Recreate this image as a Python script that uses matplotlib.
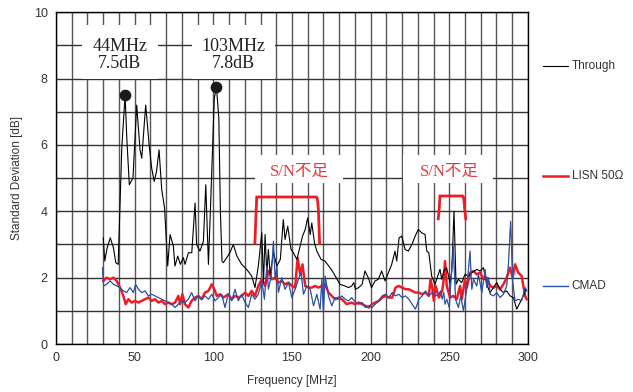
import numpy as np
import matplotlib.pyplot as plt
from matplotlib.lines import Line2D
from matplotlib.patches import Rectangle
from matplotlib.path import Path
from matplotlib.patches import PathPatch

plt.rcParams['font.family'] = ['Liberation Sans', 'DejaVu Sans']

# Through (black)
through_f = [30, 31, 32.5, 34.5, 36.5, 38, 39.5, 41.8, 43.9, 45, 46.6, 48.9, 51.3, 53.4, 54.5, 57.0,
             59.3, 60.8, 62.4, 63.9, 65.5, 67.2, 69.0, 71.0, 72.5, 74.6, 75.6, 77.4, 79, 81, 82, 84.2,
             86.3, 88.4, 89.4, 91.5, 93.7, 95.2, 96.9, 98.5, 100.6, 102, 103.5, 104.5, 105.5, 106.4,
             108.5, 110.5, 112.7, 115, 118, 121.2, 124.4, 126.5, 128.6, 130.8, 131.9, 132.9, 134.0,
             135, 136.1, 138.3, 140.4, 142.6, 144.5, 145.6, 147.3, 149.4, 150.9, 153.1, 155.2, 156.7,
             158.4, 160, 161.6, 162.6, 164.3, 165.8, 168.5, 171, 174.2, 176.3, 180.5, 183.7, 186, 188,
             189.3, 190.3, 192.4, 194.6, 196.4, 198.5, 200.6, 202.8, 204.9, 207, 209.2, 211.3, 213.4,
             215.5, 216.6, 218.1, 219.8, 221.9, 224, 226.2, 228.3, 230.3, 232.5, 234.6, 235.7, 237,
             238.8, 240.9, 243, 244.1, 245.2, 246.5, 248.3, 250.5, 251.6, 253, 254.3, 255.8, 257.9,
             260, 262.2, 264.3, 267.5, 269.6, 271.7, 273.8, 275.9, 278, 280.2, 282.3, 284.4, 286.5,
             288.6, 290.8, 292.9, 295, 297.1, 298.8]
through_db = [3.2, 2.5, 2.9, 3.2, 2.9, 2.45, 2.4, 5.9, 7.5, 6.2, 4.8, 5.0, 7.2, 5.85, 5.6, 7.2,
              5.95, 5.3, 4.9, 5.2, 5.85, 4.65, 4.1, 2.35, 3.3, 2.95, 2.35, 2.65, 2.4, 2.6, 2.4, 2.75,
              2.75, 4.25, 3.0, 2.8, 3.1, 4.8, 2.4, 4.5, 7.4, 7.75, 6.8, 4.0, 2.5, 2.45,
              2.6, 2.75, 3.0, 2.65, 2.4, 2.25, 2.05, 1.7, 2.35, 3.35, 1.85, 3.3, 2.1,
              2.85, 2.1, 2.75, 2.35, 2.55, 3.75, 3.15, 3.55, 2.85, 2.75, 2.55, 2.95, 3.25,
              3.45, 3.8, 3.3, 3.65, 3.05, 2.8, 2.55, 2.5, 2.3, 2.15, 1.8, 1.75, 1.7, 1.75,
              1.85, 1.65, 1.7, 1.8, 2.2, 2.0, 1.7, 1.9, 1.95, 2.2, 1.9, 2.15, 2.4,
              2.8, 2.5, 3.2, 3.25, 2.85, 2.8, 3.0, 3.25, 3.45, 3.35, 3.3, 2.8, 2.75,
              2.05, 1.8, 2.1, 2.25, 1.95, 2.2, 2.3, 1.85, 2.2, 4.0, 1.8, 1.95, 1.85,
              2.1, 2.05, 2.15, 2.25, 2.2, 2.3, 1.8, 1.55, 1.7, 1.85, 1.65, 1.55, 1.6,
              1.45, 1.4, 1.05, 1.25, 1.45, 1.65]

# LISN 50 ohm (red)
lisn_f = [30.1, 32.2, 34.4, 36.5, 38.6, 40.7, 42.8, 44.3, 46, 48.1, 50.2, 52.4, 54.5, 56.6, 58.7,
          60.8, 62.9, 65.1, 67.2, 69.3, 71.4, 73.6, 75.7, 77.8, 78.9, 80.3, 82, 84.1, 86.2, 88.4,
          90.5, 92.6, 94.7, 96.9, 99, 100.6, 102.2, 104.3, 106.4, 109.5, 111.7, 113.8, 115.9, 118,
          120.2, 122.3, 124.4, 126.5, 128.6, 130.8, 132.9, 135, 137.2, 139.3, 141.4, 143.5, 145.6,
          147.8, 149.9, 152, 153.6, 155.2, 156.7, 158.4, 160.5, 162.6, 164.7, 166.8, 169, 171.1,
          173.2, 175.3, 177.4, 179.6, 181.7, 184.8, 188, 190, 192.4, 196.6, 198.8, 200.9, 203,
          205.2, 207.3, 209.4, 211.5, 213.7, 215.8, 217.9, 220, 222.2, 224.3, 226.4, 228.5, 230.7,
          232.8, 234.9, 237, 238.1, 239.2, 240.2, 241.3, 243.4, 245.5, 246.5, 247.3, 248.4, 250.5,
          252.6, 254.8, 255.8, 256.9, 257.9, 259, 260, 261.1, 263.3, 265.4, 267.5, 269.6, 271.7,
          273.8, 276, 278.1, 280.2, 282.3, 284.4, 286.5, 288.6, 290.3, 291.8, 293.9, 296, 298.2,
          299.2]
lisn_db = [1.9, 2.0, 1.95, 2.0, 1.9, 1.7, 1.45, 1.2, 1.35, 1.25, 1.3, 1.25, 1.3, 1.35, 1.4,
           1.3, 1.35, 1.25, 1.3, 1.2, 1.25, 1.2, 1.25, 1.45, 1.2, 1.5, 1.2, 1.1, 1.3, 1.4,
           1.45, 1.35, 1.55, 1.6, 1.8, 1.65, 1.45, 1.5, 1.4, 1.5, 1.35, 1.45, 1.4, 1.45,
           1.55, 1.45, 1.6, 1.45, 1.75, 1.95, 1.75, 2.2, 1.95, 2.0, 1.85, 1.9, 1.8,
           1.85, 1.75, 1.7, 2.6, 2.1, 2.4, 1.75, 1.7, 1.7, 1.75, 1.7, 1.75, 1.8,
           1.55, 1.45, 1.35, 1.4, 1.35, 1.2, 1.25, 1.2, 1.25, 1.15, 1.1, 1.2, 1.25,
           1.3, 1.4, 1.45, 1.4, 1.4, 1.7, 1.75, 1.7, 1.65, 1.65, 1.6, 1.55, 1.55,
           1.5, 1.55, 1.45, 1.95, 1.7, 1.3, 1.75, 1.4, 1.6, 1.95, 2.5, 1.75, 1.4,
           1.45, 1.35, 1.55, 1.75, 1.35, 1.65, 1.95, 1.7, 2.15, 2.2, 2.1, 2.15, 1.95,
           2.0, 1.75, 1.7, 1.75, 1.65, 1.8, 2.0, 2.3, 2.0, 2.4, 2.15, 2.05, 1.45,
           1.35]

# CMAD (blue)
cmad_f = [29.5, 30.3, 32.2, 34.4, 36.5, 38.6, 40.7, 42.8, 44.9, 47, 49.2, 50.6, 52.4, 54.5, 56.6,
          58.7, 60.8, 62.9, 65.1, 67.2, 69.3, 71.4, 73.6, 75.7, 77.8, 79.9, 82, 84.1, 86.2, 88.4,
          90.5, 92.6, 94.7, 96.9, 99, 101.1, 103.2, 105.3, 107.4, 109.5, 111.7, 113.8, 115.9, 118,
          120.2, 122.3, 124.4, 126.5, 128.6, 130.8, 132.5, 134, 135, 136.8, 138.2, 139.3, 140.4,
          141.4, 143.5, 145.6, 147.8, 149.9, 152, 154.1, 155.8, 157.3, 159.4, 161.6, 163.7, 165.8,
          167.9, 169, 170, 171.1, 173.2, 175.3, 177.4, 179.6, 181.7, 183.8, 186, 188, 190.5, 192.4,
          194.6, 196.6, 198.8, 200.9, 203, 205.2, 207.3, 209.4, 211.5, 213.7, 215.8, 217.9, 220,
          222.2, 224.3, 226.4, 228.5, 230.7, 232.8, 234.9, 237, 239.2, 241.3, 243.4, 244.5, 245.5,
          246.5, 247.3, 248.4, 250, 252.5, 254, 255.8, 257.3, 259, 261.1, 263.2, 264.3, 265.4,
          267.5, 268.5, 270.7, 272.8, 273.8, 274.9, 276, 278.1, 280.2, 282.3, 284.4, 286.5, 287.6,
          289, 290.3, 291.8, 293.9, 296, 298.2, 299.2]
cmad_db = [2.3, 1.75, 1.8, 1.9, 1.8, 1.75, 1.7, 1.6, 1.55, 1.7, 1.55, 1.8, 1.65, 1.55, 1.6,
           1.45, 1.5, 1.45, 1.4, 1.35, 1.3, 1.25, 1.2, 1.1, 1.2, 1.3, 1.25, 1.35, 1.55, 1.3,
           1.45, 1.35, 1.45, 1.35, 1.5, 1.3, 1.4, 1.5, 1.1, 1.5, 1.3, 1.65, 1.3, 1.5,
           1.25, 1.1, 1.5, 1.35, 1.5, 1.9, 1.35, 2.35, 1.65, 2.05, 3.1, 1.95, 2.35,
           1.55, 2.0, 1.65, 1.85, 1.4, 1.65, 1.95, 2.15, 1.5, 1.75, 1.65, 1.15, 1.5,
           1.05, 1.95, 0.95, 2.05, 1.45, 1.15, 1.4, 1.35, 1.45, 1.35, 1.3, 1.4, 1.25, 1.2,
           1.25, 1.1, 1.15, 1.1, 1.2, 1.3, 1.45, 1.5, 1.4, 1.55, 1.45, 1.5, 1.4,
           1.45, 1.35, 1.2, 1.05, 1.35, 1.45, 1.6, 1.45, 1.55, 1.45, 1.5, 1.6, 1.35,
           1.55, 1.2, 1.35, 1.1, 2.95, 1.35, 1.1, 1.45, 1.0, 1.65, 2.8, 1.65, 1.95,
           1.75, 2.1, 1.55, 2.25, 1.7, 2.0, 1.5, 1.45, 1.55, 1.4, 1.5, 1.75, 2.4,
           3.7, 1.9, 1.3, 1.35, 1.3, 1.7, 1.6]

peak_f = [44, 101.5]
peak_db = [7.5, 7.75]
peak_labels = ["44MHz\n7.5dB", "103MHz\n7.8dB"]

fig = plt.figure(figsize=(6.33, 3.92), dpi=100)
ax = fig.add_axes([0.0885, 0.1224, 0.7455, 0.8466])

ax.set_xlim(0, 300)
ax.set_ylim(0, 10)
ax.set_xticks(np.arange(0, 301, 50))
ax.set_xticks(np.arange(0, 301, 10), minor=True)
ax.set_yticks(np.arange(0, 11, 2))
ax.set_yticks(np.arange(0, 11, 1), minor=True)
ax.grid(True, which='both', axis='x', color='#555555', lw=1.0)
ax.grid(True, which='both', axis='y', color='#333333', lw=1.0)
ax.set_axisbelow(True)
ax.tick_params(which='both', length=0, labelsize=9, labelcolor='#333333', pad=6)
for s in ax.spines.values():
    s.set_color('black')
    s.set_linewidth(1.0)

ax.set_xlabel("Frequency [MHz]", fontsize=8.5, color='#333333', labelpad=8)
ax.set_ylabel("Standard Deviation [dB]", fontsize=8.5, color='#333333', labelpad=8)

# white boxes behind annotations (hide grid)
for x0, x1, y0, y1 in [(16.5, 64.8, 8.0, 9.6), (86.5, 139, 8.0, 9.6),
                       (126.5, 182.5, 4.85, 5.7), (220.6, 277.8, 4.85, 5.7)]:
    ax.add_patch(Rectangle((x0, y0), x1 - x0, y1 - y0, facecolor='white',
                           edgecolor='none', zorder=1.5))

ax.plot(through_f, through_db, color='black', lw=0.8, zorder=3)
ax.plot(cmad_f, cmad_db, color='#2b4ea8', lw=0.8, zorder=3)
ax.plot(lisn_f, lisn_db, color='#ee1c25', lw=1.8, zorder=2.9)
ax.plot(cmad_f, cmad_db, color='#2b4ea8', lw=0.6, zorder=3.1, alpha=0.6)

ax.scatter(peak_f, peak_db, s=55, color='#1a1a1a', zorder=5)
for (xc, lab) in zip([40.6, 112.8], peak_labels):
    ax.text(xc, 8.72, lab, ha='center', va='center', fontsize=13,
            family=['Liberation Serif', 'DejaVu Serif'], color='#222222',
            linespacing=1.0, zorder=6)

# S/N brackets
red_txt = '#e8383d'
for xc, xl, xr, ytop, ybot in [(155, 127, 167, 4.43, 3.0), (250, 243.5, 260, 4.46, 3.73)]:
    ax.text(xc, 5.2, "S/N不足", ha='center', va='center', fontsize=12, color=red_txt,
            family=['Liberation Serif', 'Noto Sans CJK JP'], zorder=6)
    verts = [(xl - 0.6, ybot), (xl + 0.2, ytop - 0.4), (xl + 0.6, ytop),
             (xl + 1.5, ytop), (xr - 1.5, ytop), (xr - 0.6, ytop),
             (xr - 0.2, ytop - 0.4), (xr + 0.6, ybot)]
    codes = [Path.MOVETO, Path.CURVE3, Path.CURVE3, Path.LINETO, Path.LINETO,
             Path.CURVE3, Path.CURVE3, Path.LINETO]
    ax.add_patch(PathPatch(Path(verts, codes), facecolor='none', edgecolor='#ee1c25',
                           lw=2.0, zorder=6))

# legend at right
legend_items = [("Through", 'black', 0.8, 0.832), ("LISN 50Ω", '#ee1c25', 1.8, 0.551),
                ("CMAD", '#2b4ea8', 1.0, 0.270)]
for lab, col, lw, y in legend_items:
    fig.add_artist(Line2D([0.858, 0.897], [y, y], color=col, lw=lw))
    fig.text(0.903, y, lab, va='center', ha='left', fontsize=8.5, color='#333333')

fig.savefig("out.png", dpi=100)
